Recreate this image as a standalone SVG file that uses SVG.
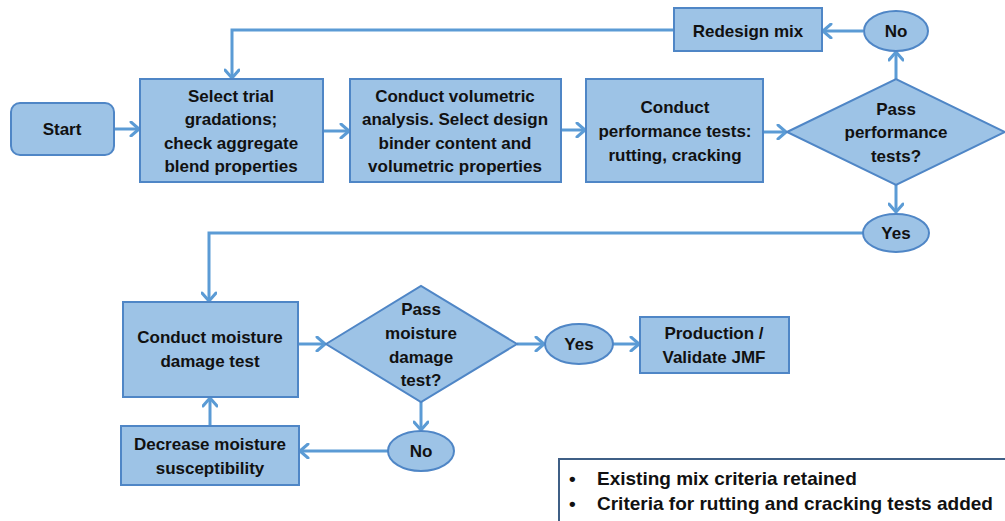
<svg xmlns="http://www.w3.org/2000/svg" width="1005" height="521" viewBox="0 0 1005 521">
<style>
.box{fill:#9dc3e6;stroke:#4f86c6;stroke-width:2}
.t{font-family:"Liberation Sans",Arial,sans-serif;font-weight:bold;font-size:17px;fill:#111;text-anchor:middle;dominant-baseline:central}
.c{fill:none;stroke:#5b9bd5;stroke-width:3;marker-end:url(#ah)}
.lg{font-family:"Liberation Sans",Arial,sans-serif;font-weight:bold;font-size:19px;fill:#111;dominant-baseline:central}
</style>
<defs>
<marker id="ah" markerUnits="userSpaceOnUse" markerWidth="14" markerHeight="16" refX="10" refY="8" orient="auto" viewBox="0 0 14 16">
<path d="M2,1 L10,8 L2,15" fill="none" stroke="#5b9bd5" stroke-width="3" stroke-linecap="round" stroke-linejoin="round"/>
</marker>
</defs>
<rect width="1005" height="521" fill="#fff"/>
<g id="connectors">
<path class="c" d="M114,129 H139"/>
<path class="c" d="M323,131 H349"/>
<path class="c" d="M561,130 H585"/>
<path class="c" d="M763,132 H786"/>
<path class="c" d="M896,79 V52"/>
<path class="c" d="M863,31 H823"/>
<path class="c" d="M674,30 H232 V78"/>
<path class="c" d="M896,185 V212"/>
<path class="c" d="M863,233 H209 V301"/>
<path class="c" d="M299,344 H325"/>
<path class="c" d="M421,402 V430"/>
<path class="c" d="M388,451 H300"/>
<path class="c" d="M210,426 V398"/>
<path class="c" d="M517,344 H544"/>
<path class="c" d="M613,344 H639"/>
</g>
<g id="start"><rect class="box" x="11" y="103" width="103" height="52" rx="9"/><text class="t" x="62" y="129">Start</text></g>
<g id="select"><rect class="box" x="140" y="79" width="183" height="103"/>
<text class="t" x="231" y="96">Select trial</text><text class="t" x="231" y="119">gradations;</text><text class="t" x="231" y="143">check aggregate</text><text class="t" x="231" y="166">blend properties</text></g>
<g id="volumetric"><rect class="box" x="350" y="79" width="211" height="103"/>
<text class="t" x="455" y="96">Conduct volumetric</text><text class="t" x="455" y="119">analysis. Select design</text><text class="t" x="455" y="143">binder content and</text><text class="t" x="455" y="166">volumetric properties</text></g>
<g id="performance"><rect class="box" x="586" y="79" width="177" height="103"/>
<text class="t" x="675" y="107">Conduct</text><text class="t" x="675" y="131">performance tests:</text><text class="t" x="675" y="155">rutting, cracking</text></g>
<g id="pass-perf"><polygon class="box" points="787,132 896,79 1005,132 896,185"/>
<text class="t" x="896" y="109">Pass</text><text class="t" x="896" y="132">performance</text><text class="t" x="896" y="156">tests?</text></g>
<g id="redesign"><rect class="box" x="674" y="8" width="148" height="43"/><text class="t" x="748" y="31">Redesign mix</text></g>
<g id="no-perf"><ellipse class="box" cx="896" cy="31" rx="32" ry="20"/><text class="t" x="896" y="31">No</text></g>
<g id="yes-perf"><ellipse class="box" cx="896" cy="233" rx="33" ry="19"/><text class="t" x="896" y="233">Yes</text></g>
<g id="moisture"><rect class="box" x="123" y="302" width="175" height="95"/>
<text class="t" x="210" y="337">Conduct moisture</text><text class="t" x="210" y="361">damage test</text></g>
<g id="pass-moist"><polygon class="box" points="326,344 421,286 517,344 421,402"/>
<text class="t" x="421" y="309">Pass</text><text class="t" x="421" y="333">moisture</text><text class="t" x="421" y="357">damage</text><text class="t" x="421" y="380">test?</text></g>
<g id="no-moist"><ellipse class="box" cx="421" cy="451" rx="33" ry="20"/><text class="t" x="421" y="451">No</text></g>
<g id="decrease"><rect class="box" x="121" y="426" width="178" height="59"/>
<text class="t" x="210" y="444">Decrease moisture</text><text class="t" x="210" y="468">susceptibility</text></g>
<g id="yes-moist"><ellipse class="box" cx="579" cy="344" rx="34" ry="20"/><text class="t" x="579" y="344">Yes</text></g>
<g id="production"><rect class="box" x="640" y="317" width="149" height="56"/>
<text class="t" x="714" y="333">Production /</text><text class="t" x="714" y="357">Validate JMF</text></g>
<g id="legend"><rect x="559" y="459" width="460" height="80" fill="#fff" stroke="#3f5f86" stroke-width="2"/>
<text class="lg" x="569" y="478">•</text><text class="lg" x="597" y="478">Existing mix criteria retained</text>
<text class="lg" x="569" y="503">•</text><text class="lg" x="597" y="503">Criteria for rutting and cracking tests added</text></g>
</svg>
